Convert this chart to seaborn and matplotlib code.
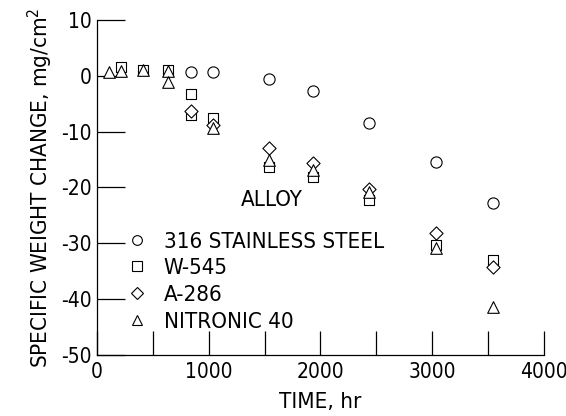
import matplotlib
matplotlib.use("Agg")
import matplotlib.pyplot as plt
from matplotlib.lines import Line2D
import seaborn as sns
import pandas as pd

# values
alloys = ["316 STAINLESS STEEL", "W-545", "A-286", "NITRONIC 40"]
markers = ["o", "s", "D", "^"]

ss_time = [838, 1035, 1539, 1936, 2431, 3034, 3541]
ss_change = [0.75, 0.6, -0.6, -2.7, -8.5, -15.4, -22.7]

w545_time = [215, 414, 638, 838, 838, 1035, 1539, 1936, 2431, 3034, 3541]
w545_change = [1.6, 1.0, 1.0, -3.3, -7.0, -7.6, -16.3, -18.2, -22.2, -30.3, -33.0]

a286_time = [838, 1035, 1539, 1936, 2431, 3034, 3541]
a286_change = [-6.3, -8.8, -13.0, -15.7, -20.2, -28.2, -34.2]

n40_time = [107, 215, 414, 638, 638, 1035, 1539, 1936, 2431, 3034, 3541]
n40_change = [0.6, 0.9, 1.0, 0.9, -1.1, -9.4, -15.1, -16.9, -20.8, -30.8, -41.4]

x_ticks = [0, 1000, 2000, 3000, 4000]
y_ticks = [10, 0, -10, -20, -30, -40, -50]

times = [ss_time, w545_time, a286_time, n40_time]
changes = [ss_change, w545_change, a286_change, n40_change]
df = pd.concat(
    [pd.DataFrame({"time": t, "change": c, "alloy": a}) for t, c, a in zip(times, changes, alloys)],
    ignore_index=True,
)

sns.set_style("ticks")
plt.rcParams["font.family"] = ["DejaVu Sans"]
plt.rcParams["font.stretch"] = "condensed"
plt.rcParams["axes.unicode_minus"] = False
plt.rcParams["text.color"] = "black"
plt.rcParams["axes.labelcolor"] = "black"

fig = plt.figure(figsize=(5.66, 4.16), dpi=100)
ax = fig.add_axes([0.1714, 0.1466, 0.7896, 0.8054])

marker_map = dict(zip(alloys, markers))
size_map = {"o": 65, "s": 55, "D": 45, "^": 70}
for a in alloys:
    sub = df[df["alloy"] == a]
    sns.scatterplot(data=sub, x="time", y="change", marker=marker_map[a],
                    s=size_map[marker_map[a]], facecolor="white", edgecolor="black",
                    linewidth=0.8, ax=ax, legend=False, zorder=3)

ax.set_xlim(0, 4000)
ax.set_ylim(-50, 10)
ax.set_xticks(x_ticks)
ax.set_xticks(range(500, 4000, 1000), minor=True)
ax.set_yticks(y_ticks)
ax.tick_params(axis="both", which="both", direction="in", colors="black",
               labelsize=15, width=0.9)
ax.tick_params(axis="y", which="major", length=20, pad=4)
ax.tick_params(axis="x", which="both", length=17, pad=5)
ax.tick_params(axis="x", which="minor", labelbottom=False)
sns.despine(ax=ax)
for s in ["left", "bottom"]:
    ax.spines[s].set_linewidth(0.9)
    ax.spines[s].set_color("black")

ax.set_xlabel("TIME, hr", fontsize=16, labelpad=7)
ax.set_ylabel("SPECIFIC WEIGHT CHANGE, mg/cm$^2$", fontsize=16, labelpad=4)

handles = [Line2D([], [], linestyle="none", marker=m, markersize=7 if m != "D" else 6,
                  markerfacecolor="white", markeredgecolor="black", markeredgewidth=0.8)
           for m in markers]
ax.legend(handles, alloys, loc="lower left", bbox_to_anchor=(0.06, 0.07),
          frameon=False, fontsize=16, handletextpad=0.6, labelspacing=0.3,
          handlelength=1.2, borderpad=0.0, borderaxespad=0.0)
ax.text(1560, -22.3, "ALLOY", fontsize=16, ha="center", va="center")

fig.savefig("out.png", dpi=100)
